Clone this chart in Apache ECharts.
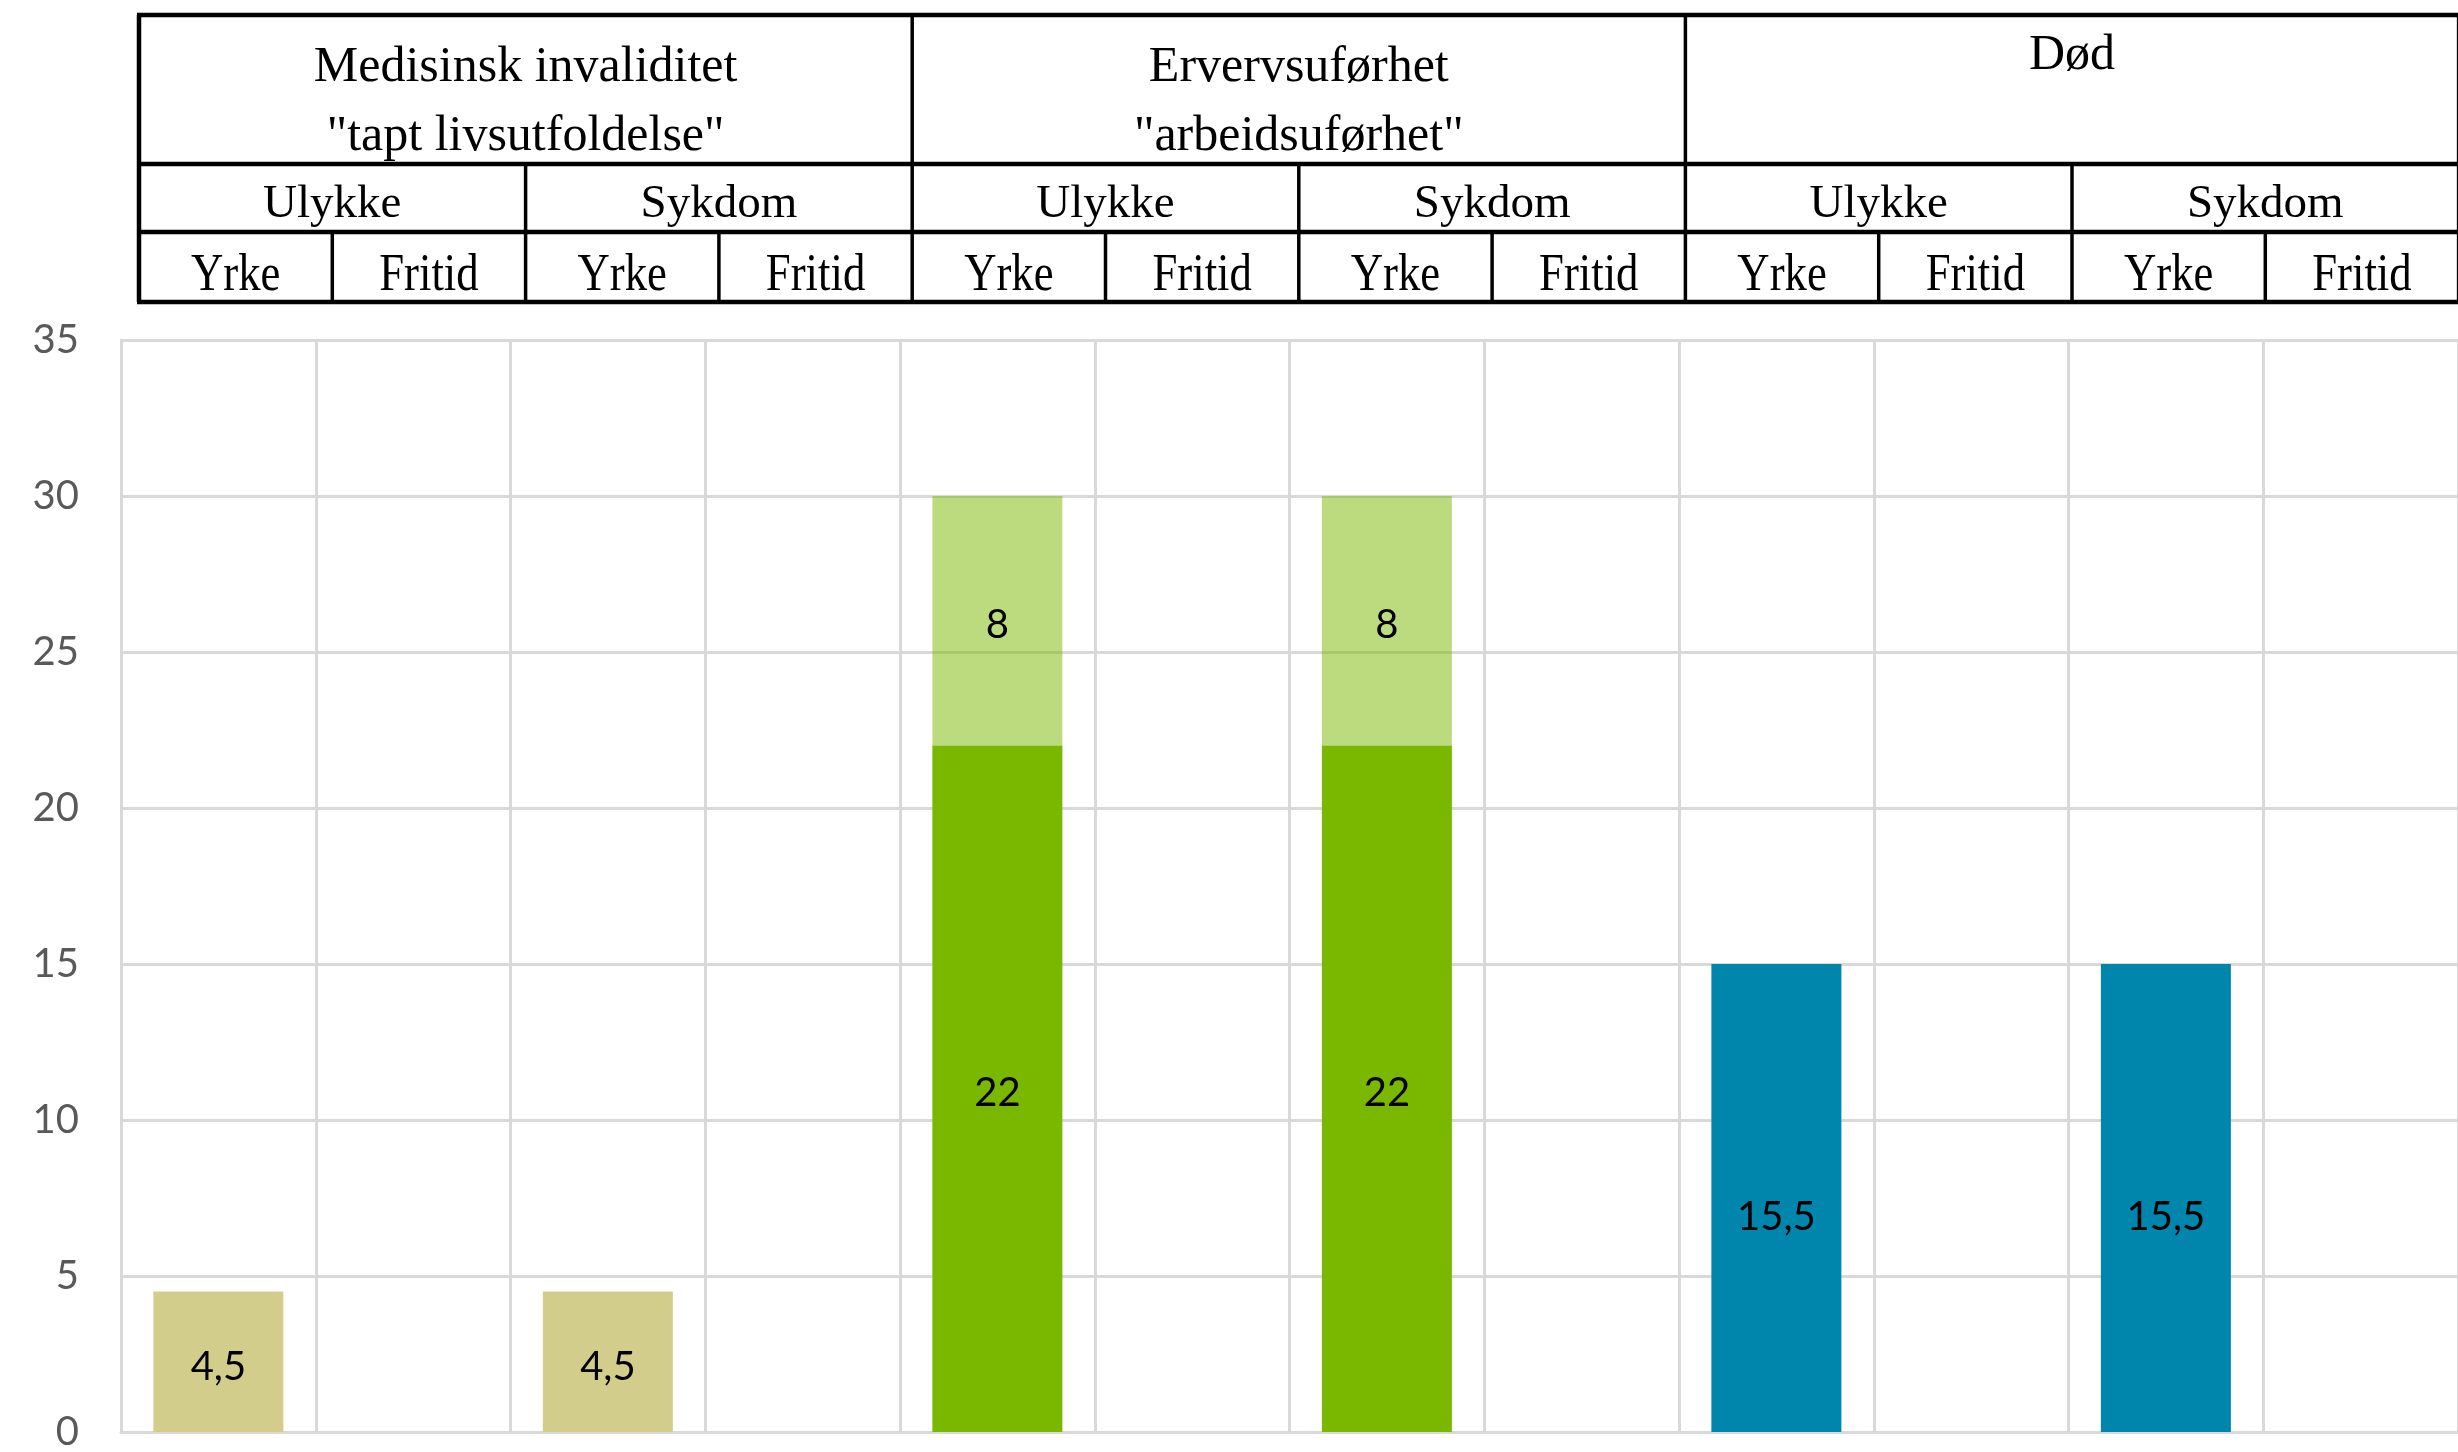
<!DOCTYPE html>
<html>
<head>
<meta charset="utf-8">
<script src="https://cdn.jsdelivr.net/npm/echarts@6/dist/echarts.min.js"></script>
<style>
html,body{margin:0;padding:0;background:#fff;}
#chart{width:2458px;height:1452px;}
</style>
</head>
<body>
<div id="chart"></div>
<script>
// ---- data ----
const categories = ['MI-Ulykke-Yrke','MI-Ulykke-Fritid','MI-Sykdom-Yrke','MI-Sykdom-Fritid',
  'EU-Ulykke-Yrke','EU-Ulykke-Fritid','EU-Sykdom-Yrke','EU-Sykdom-Fritid',
  'D-Ulykke-Yrke','D-Ulykke-Fritid','D-Sykdom-Yrke','D-Sykdom-Fritid'];
const medisinskValues = [4.5, null, 4.5, null, null, null, null, null, null, null, null, null];
const ervervBaseValues = [null, null, null, null, 22, null, 22, null, null, null, null, null];
const ervervTopValues  = [null, null, null, null, 8, null, 8, null, null, null, null, null];
const dodValues = [null, null, null, null, null, null, null, null, 15, null, 15, null];
const dodLabels = ['', '', '', '', '', '', '', '', '15,5', '', '15,5', ''];
const yTicks = [0, 5, 10, 15, 20, 25, 30, 35];

const topGroups = [['Medisinsk invaliditet', '"tapt livsutfoldelse"'], ['Ervervsuførhet', '"arbeidsuførhet"'], ['Død']];
const midGroups = ['Ulykke', 'Sykdom', 'Ulykke', 'Sykdom', 'Ulykke', 'Sykdom'];
const bottomLabels = ['Yrke', 'Fritid', 'Yrke', 'Fritid', 'Yrke', 'Fritid', 'Yrke', 'Fritid', 'Yrke', 'Fritid', 'Yrke', 'Fritid'];

// ---- table header (graphic) ----
const tLeft = 139, colW = 193.3;
const rowY = [15, 164, 232, 302];
const serif = '"Liberation Serif", "Times New Roman", serif';
const graphics = [];
rowY.forEach(function (y) {
  graphics.push({type: 'line', shape: {x1: tLeft - 2, y1: y, x2: 2470, y2: y}, style: {stroke: '#000', lineWidth: 4.5}});
});
for (let k = 0; k <= 12; k++) {
  const x = tLeft + k * colW;
  let y1 = k % 4 === 0 ? rowY[0] : (k % 2 === 0 ? rowY[1] : rowY[2]);
  graphics.push({type: 'line', shape: {x1: x, y1: y1, x2: x, y2: rowY[3]}, style: {stroke: '#000', lineWidth: k === 0 ? 4.5 : 3.5}});
}
function txt(t, x, y, size, sx) {
  return {type: 'text', x: x, y: y, scaleX: sx || 1,
    style: {text: t, font: size + 'px ' + serif, fill: '#000',
      textAlign: 'center', textVerticalAlign: 'middle', align: 'center', verticalAlign: 'middle'}};
}
topGroups.forEach(function (lines, g) {
  const cx = tLeft + (g * 4 + 2) * colW;
  if (lines.length === 2) {
    graphics.push(txt(lines[0], cx, 68, 50));
    graphics.push(txt(lines[1], cx, 137, 50));
  } else {
    graphics.push(txt(lines[0], cx, 56, 50));
  }
});
midGroups.forEach(function (t, g) {
  graphics.push(txt(t, tLeft + (g * 2 + 1) * colW, 205, 47));
});
bottomLabels.forEach(function (t, i) {
  graphics.push(txt(t, tLeft + (i + 0.5) * colW, 276, 52, 0.86));
});

// ---- chart ----
const labelFont = {fontFamily: 'Lato, "Noto Sans", sans-serif', fontSize: 40, color: '#000'};
function fmtComma(p) { return p.value == null ? '' : String(p.value).replace('.', ','); }

const chart = echarts.init(document.getElementById('chart'));
chart.setOption({
  animation: false,
  backgroundColor: '#fff',
  grid: {left: 121, right: 0, top: 340, bottom: 11, containLabel: false},
  xAxis: {
    type: 'category', data: categories,
    axisLine: {show: true, lineStyle: {color: '#d9d9d9', width: 3}},
    axisTick: {show: false}, axisLabel: {show: false},
    splitLine: {show: true, interval: 0, lineStyle: {color: '#d9d9d9', width: 3}}
  },
  yAxis: {
    type: 'value', min: 0, max: 35, interval: 5,
    axisLine: {show: true, lineStyle: {color: '#d9d9d9', width: 3}},
    axisTick: {show: false},
    axisLabel: {fontFamily: 'Lato, "Noto Sans", sans-serif', fontSize: 40, color: '#595959', margin: 42,
      formatter: function (v) { return yTicks.indexOf(v) >= 0 ? String(v) : ''; }},
    splitLine: {show: true, lineStyle: {color: '#d9d9d9', width: 3}}
  },
  series: [
    {type: 'bar', name: 'Medisinsk', stack: 'all', data: medisinskValues, barWidth: 130,
      itemStyle: {color: '#d3cd8b'},
      label: Object.assign({show: true, position: 'inside', formatter: fmtComma, offset: [0, 5]}, labelFont)},
    {type: 'bar', name: 'Erverv', stack: 'all', data: ervervBaseValues, barWidth: 130,
      itemStyle: {color: '#7ab800'},
      label: Object.assign({show: true, position: 'inside', formatter: fmtComma, offset: [0, 4]}, labelFont)},
    {type: 'bar', name: 'Erverv tillegg', stack: 'all', data: ervervTopValues, barWidth: 130,
      itemStyle: {color: 'rgba(122,184,0,0.5)'},
      label: Object.assign({show: true, position: 'inside', formatter: fmtComma, offset: [0, 4]}, labelFont)},
    {type: 'bar', name: 'Død', stack: 'all', data: dodValues, barWidth: 130,
      itemStyle: {color: '#0085ad'},
      label: Object.assign({show: true, position: 'inside', offset: [0, 19],
        formatter: function (p) { return dodLabels[p.dataIndex]; }}, labelFont)}
  ],
  graphic: graphics
});
</script>
</body>
</html>
